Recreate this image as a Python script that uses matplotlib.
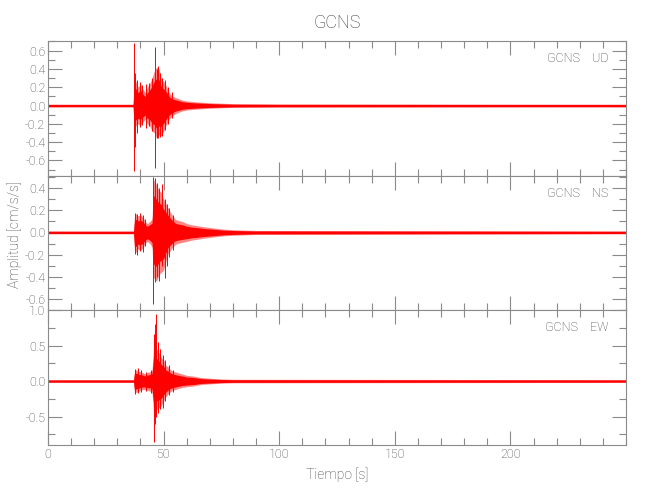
import matplotlib
matplotlib.use("Agg")
import matplotlib.pyplot as plt
from matplotlib.ticker import MultipleLocator, FormatStrFormatter

plt.rcParams['font.family'] = ['Roboto', 'DejaVu Sans']
plt.rcParams['font.weight'] = 'light'
plt.rcParams['axes.labelweight'] = 'light'

station = "GCNS"
components = ["UD", "NS", "EW"]
x_ticks = [0, 50, 100, 150, 200]

# Envelope (upper / lower) of each trace
ud_t = [0, 36.8, 37.3, 38, 39, 40, 41, 42, 43, 44, 45, 46, 47, 48, 49, 50, 51, 52, 53, 54, 55, 56, 57, 58, 60, 62, 64, 67, 70, 80, 100, 250]
ud_hi = [0.015, 0.015, 0.30, 0.26, 0.20, 0.24, 0.18, 0.14, 0.20, 0.24, 0.30, 0.38, 0.42, 0.40, 0.30, 0.26, 0.22, 0.16, 0.12, 0.10, 0.09, 0.08, 0.07, 0.06, 0.05, 0.045, 0.04, 0.035, 0.03, 0.02, 0.017, 0.015]
ud_lo = [-0.015, -0.015, -0.30, -0.22, -0.20, -0.22, -0.18, -0.15, -0.20, -0.22, -0.28, -0.30, -0.36, -0.32, -0.33, -0.28, -0.22, -0.17, -0.13, -0.11, -0.09, -0.08, -0.07, -0.06, -0.05, -0.045, -0.04, -0.035, -0.03, -0.02, -0.017, -0.015]

ns_t = [0, 37.0, 37.4, 38, 39, 40, 41, 42, 43, 44, 45, 45.6, 46, 47, 48, 49, 50, 51, 52, 53, 54, 55, 56, 58, 60, 62, 65, 68, 72, 76, 80, 90, 250]
ns_hi = [0.013, 0.013, 0.15, 0.17, 0.15, 0.16, 0.14, 0.10, 0.08, 0.10, 0.12, 0.45, 0.48, 0.42, 0.38, 0.36, 0.30, 0.26, 0.22, 0.18, 0.15, 0.12, 0.11, 0.10, 0.08, 0.07, 0.06, 0.05, 0.04, 0.03, 0.025, 0.018, 0.013]
ns_lo = [-0.013, -0.013, -0.17, -0.18, -0.15, -0.16, -0.14, -0.10, -0.08, -0.10, -0.13, -0.40, -0.42, -0.44, -0.38, -0.36, -0.34, -0.26, -0.19, -0.16, -0.13, -0.11, -0.10, -0.09, -0.08, -0.07, -0.06, -0.05, -0.04, -0.03, -0.025, -0.018, -0.013]

ew_t = [0, 37.0, 37.4, 38, 39, 40, 41, 42, 43, 44, 45, 45.8, 46.5, 47, 48, 49, 50, 51, 52, 53, 54, 56, 58, 60, 63, 66, 70, 75, 80, 250]
ew_hi = [0.02, 0.02, 0.15, 0.16, 0.14, 0.13, 0.12, 0.10, 0.12, 0.13, 0.15, 0.55, 0.60, 0.45, 0.40, 0.33, 0.30, 0.22, 0.20, 0.16, 0.14, 0.12, 0.10, 0.08, 0.07, 0.05, 0.04, 0.03, 0.025, 0.02]
ew_lo = [-0.02, -0.02, -0.17, -0.16, -0.15, -0.13, -0.12, -0.12, -0.13, -0.14, -0.16, -0.50, -0.45, -0.40, -0.38, -0.35, -0.28, -0.22, -0.18, -0.15, -0.13, -0.11, -0.09, -0.08, -0.07, -0.05, -0.04, -0.03, -0.025, -0.02]

# Individual swings (time, max, min)
ud_spk_t = [37.1, 37.6, 38.4, 39.6, 40.8, 42.5, 43.8, 44.9, 46.4, 47.0, 47.6, 48.6, 49.5, 50.7, 52.0, 53.5]
ud_spk_hi = [0.68, 0.35, 0.28, 0.26, 0.22, 0.24, 0.25, 0.30, 0.64, 0.40, 0.43, 0.36, 0.30, 0.28, 0.20, 0.15]
ud_spk_lo = [-0.72, -0.45, -0.30, -0.24, -0.21, -0.25, -0.22, -0.28, -0.68, -0.36, -0.36, -0.34, -0.33, -0.27, -0.20, -0.14]

ns_spk_t = [37.6, 38.5, 39.7, 40.9, 42.0, 45.6, 46.3, 47.2, 48.1, 49.2, 50.4, 51.3, 52.5, 54.0]
ns_spk_hi = [0.18, 0.17, 0.18, 0.16, 0.12, 0.50, 0.49, 0.45, 0.40, 0.44, 0.30, 0.26, 0.22, 0.16]
ns_spk_lo = [-0.19, -0.20, -0.17, -0.18, -0.12, -0.65, -0.45, -0.40, -0.44, -0.30, -0.41, -0.30, -0.22, -0.16]

ew_spk_t = [37.6, 38.8, 40.2, 42.3, 44.5, 45.8, 46.4, 46.8, 47.5, 48.4, 49.6, 50.8, 52.2, 54.0]
ew_spk_hi = [0.17, 0.18, 0.15, 0.13, 0.16, 0.66, 0.80, 0.94, 0.55, 0.45, 0.36, 0.30, 0.22, 0.16]
ew_spk_lo = [-0.18, -0.17, -0.16, -0.14, -0.17, -0.86, -0.60, -0.50, -0.45, -0.40, -0.38, -0.28, -0.20, -0.15]

ylims = [(-0.77, 0.71), (-0.70, 0.51), (-0.90, 1.0)]
y_major = [0.2, 0.2, 0.5]
y_minor = [0.1, 0.1, 0.25]

traces = [
    (ud_t, ud_hi, ud_lo, ud_spk_t, ud_spk_hi, ud_spk_lo),
    (ns_t, ns_hi, ns_lo, ns_spk_t, ns_spk_hi, ns_spk_lo),
    (ew_t, ew_hi, ew_lo, ew_spk_t, ew_spk_hi, ew_spk_lo),
]

text_c = "#3c3c3c"
spine_c = "#8a8a8a"

fig = plt.figure(figsize=(6.5, 5.0), dpi=100)
left, width = 48 / 650, (626 - 48) / 650
tops = [40.5, 176, 310]
bots = [176, 310, 445]

for i, (comp, tr) in enumerate(zip(components, traces)):
    t, hi, lo, st, sh, sl = tr
    b = 1 - bots[i] / 500
    h = (bots[i] - tops[i]) / 500
    ax = fig.add_axes([left, b, width, h])
    ax.fill_between(t, lo, hi, color="#ff8585", lw=0)
    ax.fill_between(t, [v * 0.7 for v in lo], [v * 0.7 for v in hi], color="red", lw=0)
    ax.plot([0, 250], [0, 0], color="red", lw=1.0)
    ax.vlines(st, sl, sh, color="red", lw=0.7)
    ax.set_xlim(0, 250)
    ax.set_ylim(*ylims[i])
    ax.xaxis.set_major_locator(MultipleLocator(50))
    ax.xaxis.set_minor_locator(MultipleLocator(10))
    ax.yaxis.set_major_locator(MultipleLocator(y_major[i]))
    ax.yaxis.set_minor_locator(MultipleLocator(y_minor[i]))
    ax.yaxis.set_major_formatter(FormatStrFormatter("%.1f"))
    ax.tick_params(which="both", direction="in", top=True, right=True,
                   colors=spine_c, labelcolor=text_c, labelsize=9, pad=2)
    ax.tick_params(which="major", length=10, width=0.8)
    ax.tick_params(which="minor", length=5, width=0.8)
    for s in ax.spines.values():
        s.set_color(spine_c)
        s.set_linewidth(0.8)
    if i < 2:
        ax.tick_params(labelbottom=False)
    else:
        ax.set_xticks(x_ticks)
        ax.set_xlabel("Tiempo [s]", color=text_c, fontsize=10, labelpad=5,
                      fontweight="light")
    ax.text(0.97, 0.87, f"{station}    {comp}", transform=ax.transAxes,
            ha="right", va="center", color=text_c, fontsize=9)

fig.text(0.519, 0.954, station, ha="center", va="center", color=text_c, fontsize=13)
fig.text(0.022, 0.53, "Amplitud [cm/s/s]", rotation=90, ha="center", va="center",
         color=text_c, fontsize=10)

fig.savefig("out.png", dpi=100)
